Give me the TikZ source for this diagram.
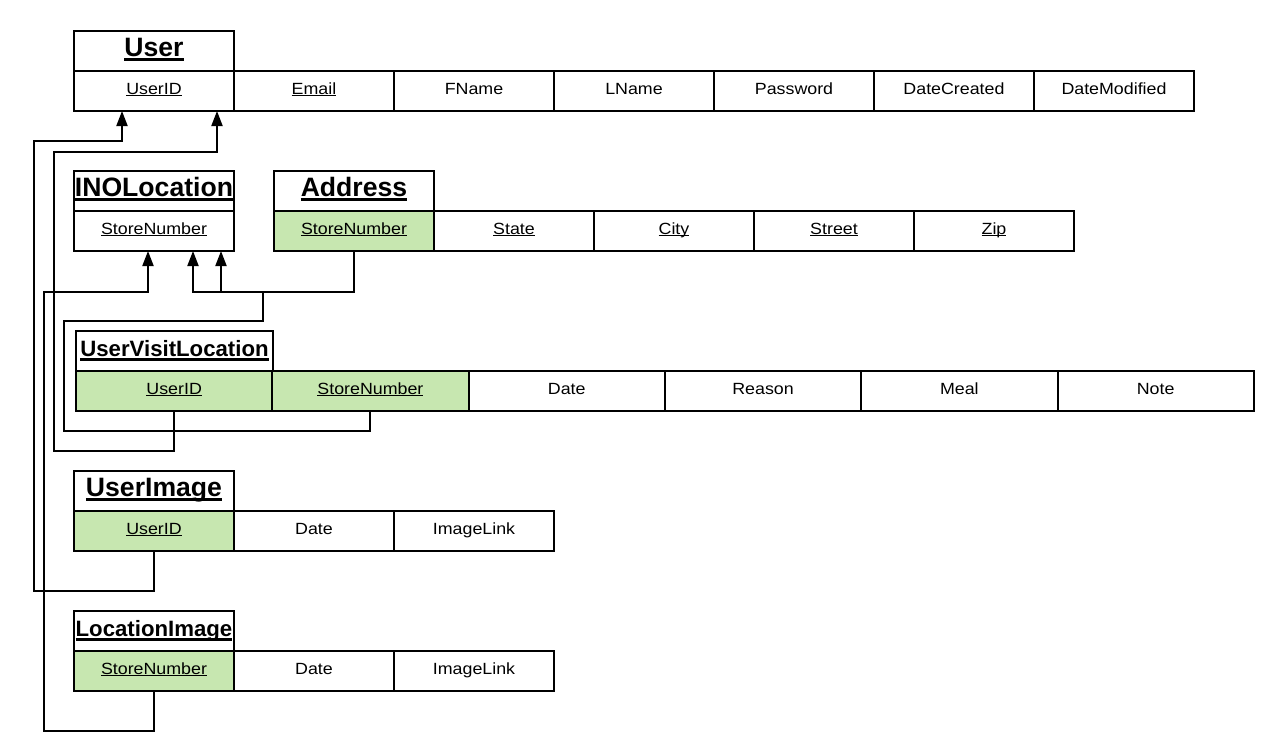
\documentclass[tikz,border=0pt]{standalone}
\usepackage{fontspec}
\setmainfont{Liberation Sans}
\newfontfamily\attrfont[FakeStretch=1.1]{Liberation Sans}
\usetikzlibrary{arrows.meta,calc}
\definecolor{keygreen}{RGB}{199,231,176}
\newcommand\ulattr[1]{\setbox0=\hbox{#1}\rlap{\copy0}\rule[-2.4pt]{\wd0}{1.1pt}}
\newcommand\ultitle[1]{\setbox0=\hbox{#1}\rlap{\copy0}\rule[-3.9pt]{\wd0}{2.3pt}}
\begin{document}
\begin{tikzpicture}[x=1pt,y=-1pt,
 cell/.style={draw, line width=2pt, inner sep=0pt, outer sep=0pt, anchor=north west,
   minimum height=40pt, text height=10pt, text depth=4pt,
   font=\attrfont\fontsize{16.2}{18}\selectfont},
 w160/.style={minimum width=160pt},
 w196/.style={minimum width=196.3pt},
 key/.style={fill=keygreen},
 title/.style={cell, text height=17pt, text depth=5.6pt, font=\bfseries\fontsize{26.6}{30}\selectfont},
 titlesm/.style={cell, text height=15pt, text depth=3.6pt, font=\bfseries\fontsize{22.2}{26}\selectfont},
 conn/.style={line width=2pt},
 arr/.style={conn, -{Triangle[length=15pt,width=11pt]}}]
\useasboundingbox (0,0) rectangle (1267,744);

% User
\node[title,w160] (ut) at (74,31) {\ultitle{User}};
\node[cell,w160] (u1) at (74,71) {\ulattr{UserID}};
\node[cell,w160] (u2) at (234,71) {\ulattr{Email}};
\node[cell,w160] (u3) at (394,71) {FName};
\node[cell,w160] (u4) at (554,71) {LName};
\node[cell,w160] (u5) at (714,71) {Password};
\node[cell,w160] (u6) at (874,71) {DateCreated};
\node[cell,w160] (u7) at (1034,71) {DateModified};

% INOLocation
\node[title,w160] (it) at (74,171) {\ultitle{INOLocation}};
\node[cell,w160] (ino1) at (74,211) {\ulattr{StoreNumber}};

% Address
\node[title,w160] (at) at (274,171) {\ultitle{Address}};
\node[cell,w160,key] (ad1) at (274,211) {\ulattr{StoreNumber}};
\node[cell,w160] (ad2) at (434,211) {\ulattr{State}};
\node[cell,w160] (ad3) at (594,211) {\ulattr{City}};
\node[cell,w160] (ad4) at (754,211) {\ulattr{Street}};
\node[cell,w160] (ad5) at (914,211) {\ulattr{Zip}};

% UserVisitLocation
\node[titlesm,minimum width=197pt] (vt) at (76,331) {\ultitle{UserVisitLocation}};
\node[cell,w196,key] (uv1) at (76,371) {\ulattr{UserID}};
\node[cell,w196,key] (uv2) at (272.3,371) {\ulattr{StoreNumber}};
\node[cell,w196] (uv3) at (468.6,371) {Date};
\node[cell,w196] (uv4) at (664.9,371) {Reason};
\node[cell,w196] (uv5) at (861.2,371) {Meal};
\node[cell,w196] (uv6) at (1057.5,371) {Note};

% UserImage
\node[title,w160] (imt) at (74,471) {\ultitle{UserImage}};
\node[cell,w160,key] (im1) at (74,511) {\ulattr{UserID}};
\node[cell,w160] (im2) at (234,511) {Date};
\node[cell,w160] (im3) at (394,511) {ImageLink};

% LocationImage
\node[titlesm,w160] (lt) at (74,611) {\ultitle{LocationImage}};
\node[cell,w160,key] (li1) at (74,651) {\ulattr{StoreNumber}};
\node[cell,w160] (li2) at (234,651) {Date};
\node[cell,w160] (li3) at (394,651) {ImageLink};

% connectors
\draw[arr] (im1.south) -- ++(0,40) -| (34,141) -| ([xshift=-32pt]u1.south);
\draw[arr] (uv1.south) -- ++(0,40) -| (54,152) -| ([xshift=63pt]u1.south);
\draw[arr] (li1.south) -- ++(0,40) -| (44,292) -| ([xshift=-6pt]ino1.south);
\draw[arr] (uv2.south) -- ++(0,20) -| (64,321) -| (263,292) -| ([xshift=39pt]ino1.south);
\draw[arr] (ad1.south) -- ++(0,41) -| ([xshift=67pt]ino1.south);
\end{tikzpicture}
\end{document}
